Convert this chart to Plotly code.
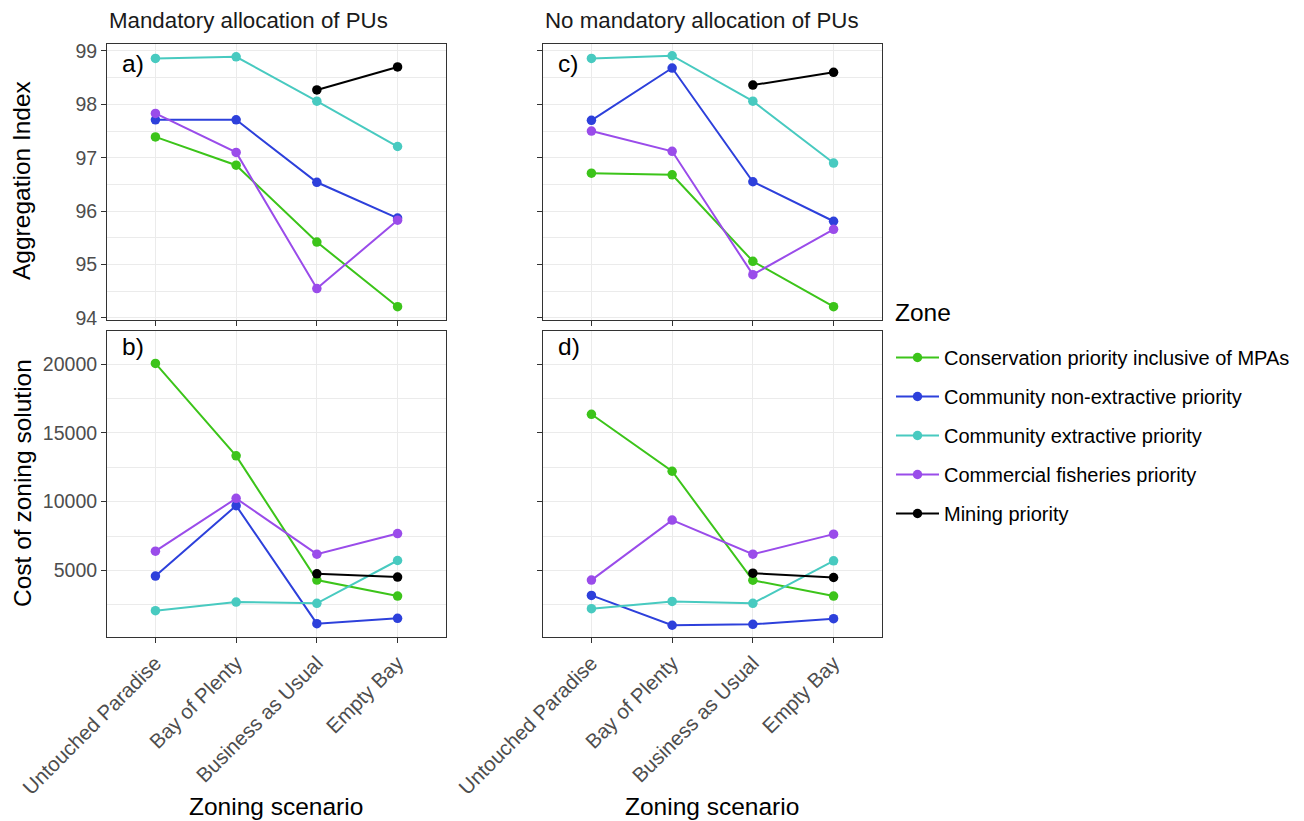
import plotly.graph_objects as go

scenarios = ["Untouched Paradise", "Bay of Plenty", "Business as Usual", "Empty Bay"]
zones = ["Conservation priority inclusive of MPAs", "Community non-extractive priority",
         "Community extractive priority", "Commercial fisheries priority", "Mining priority"]
colors = ["#3CC41A", "#2D40DB", "#48CAC0", "#9A4CEA", "#000000"]

# Panel a: Aggregation index, mandatory allocation
agg_mand_conservation = [97.39, 96.86, 95.42, 94.21]
agg_mand_noncomm = [97.71, 97.71, 96.54, 95.87]
agg_mand_extractive = [98.86, 98.89, 98.06, 97.21]
agg_mand_fisheries = [97.83, 97.10, 94.55, 95.83]
agg_mand_mining = [None, None, 98.27, 98.70]

# Panel c: Aggregation index, no mandatory allocation
agg_free_conservation = [96.71, 96.68, 95.06, 94.21]
agg_free_noncomm = [97.70, 98.68, 96.55, 95.81]
agg_free_extractive = [98.86, 98.91, 98.06, 96.90]
agg_free_fisheries = [97.50, 97.12, 94.81, 95.66]
agg_free_mining = [None, None, 98.36, 98.60]

# Panel b: Cost, mandatory allocation
cost_mand_conservation = [20050, 13330, 4300, 3140]
cost_mand_noncomm = [4590, 9710, 1135, 1520]
cost_mand_extractive = [2080, 2705, 2610, 5725]
cost_mand_fisheries = [6400, 10240, 6185, 7680]
cost_mand_mining = [None, None, 4760, 4520]

# Panel d: Cost, no mandatory allocation
cost_free_conservation = [16350, 12210, 4290, 3140]
cost_free_noncomm = [3190, 1020, 1090, 1500]
cost_free_extractive = [2220, 2750, 2610, 5700]
cost_free_fisheries = [4300, 8660, 6180, 7640]
cost_free_mining = [None, None, 4800, 4490]

panels = {
    ("x1", "y1"): [agg_mand_conservation, agg_mand_noncomm, agg_mand_extractive, agg_mand_fisheries, agg_mand_mining],
    ("x2", "y2"): [agg_free_conservation, agg_free_noncomm, agg_free_extractive, agg_free_fisheries, agg_free_mining],
    ("x3", "y3"): [cost_mand_conservation, cost_mand_noncomm, cost_mand_extractive, cost_mand_fisheries, cost_mand_mining],
    ("x4", "y4"): [cost_free_conservation, cost_free_noncomm, cost_free_extractive, cost_free_fisheries, cost_free_mining],
}

W, H = 1304, 821
def px_x(a, b):
    return [a / W, b / W]
def px_y(top, bottom):
    return [1 - bottom / H, 1 - top / H]

fig = go.Figure()
first = True
for (xa, ya), series in panels.items():
    for i, vals in enumerate(series):
        xs = [s for s, v in zip(scenarios, vals) if v is not None]
        ys = [v for v in vals if v is not None]
        fig.add_trace(go.Scatter(
            x=xs, y=ys, mode="lines+markers", name=zones[i],
            line=dict(color=colors[i], width=2),
            marker=dict(color=colors[i], size=9.5),
            xaxis=xa, yaxis=ya, showlegend=first, legendgroup=zones[i],
        ))
    first = False

FONT = "Liberation Sans, Arial, sans-serif"
grid = "#ebebeb"
border = "#333333"
tickfont = dict(family=FONT, size=19.5, color="#4d4d4d")
xtickfont = dict(family=FONT, size=20.5, color="#4d4d4d")

def xaxis(domain, anchor, labels):
    return dict(domain=domain, anchor=anchor, type="category", categoryorder="array",
                categoryarray=scenarios, range=[-0.6, 3.6], showgrid=True, gridcolor=grid,
                gridwidth=1.3, showline=True, mirror=True, linecolor=border, linewidth=1,
                ticks="outside", ticklen=5, tickcolor=border, tickwidth=1,
                showticklabels=labels, tickangle=-45, tickfont=xtickfont, zeroline=False)

def yaxis(domain, anchor, rng, dtick, tick0, labels):
    return dict(domain=domain, anchor=anchor, range=rng, dtick=dtick, tick0=tick0,
                tickformat="d",
                showgrid=True, gridcolor=grid, gridwidth=1.3,
                minor=dict(dtick=dtick / 2, tick0=tick0, showgrid=True, gridcolor=grid, gridwidth=0.7),
                showline=True, mirror=True, linecolor=border, linewidth=1,
                ticks="outside", ticklen=5, tickcolor=border, tickwidth=1,
                showticklabels=labels, tickfont=tickfont, zeroline=False)

xa_d = px_x(107, 446)
xc_d = px_x(543, 882)
ytop_d = px_y(44, 319.5)
ybot_d = px_y(330.5, 637)
agg_range = [93.97, 99.13]
cost_range = [165, 22440]

fig.update_layout(
    width=W, height=H, margin=dict(l=0, r=0, t=0, b=0, autoexpand=False),
    plot_bgcolor="white", paper_bgcolor="white",
    font=dict(family=FONT, color="black"),
    xaxis=xaxis(xa_d, "y", False),
    yaxis=yaxis(ytop_d, "x", agg_range, 1, 94, True),
    xaxis2=xaxis(xc_d, "y2", False),
    yaxis2=yaxis(ytop_d, "x2", agg_range, 1, 94, False),
    xaxis3=xaxis(xa_d, "y3", True),
    yaxis3=yaxis(ybot_d, "x3", cost_range, 5000, 0, True),
    xaxis4=xaxis(xc_d, "y4", True),
    yaxis4=yaxis(ybot_d, "x4", cost_range, 5000, 0, False),
    legend=dict(x=891 / W, y=1 - 338 / H, xanchor="left", yanchor="top",
                font=dict(size=20, family=FONT, color="black"),
                tracegroupgap=10, bgcolor="rgba(0,0,0,0)", itemwidth=43),
)

ann = []
ann.append(dict(text="Zone", x=893 / W, y=1 - 313 / H, xref="paper", yref="paper",
                xanchor="left", yanchor="middle", showarrow=False, font=dict(size=24.5, family=FONT, color="black")))
# strip titles
ann.append(dict(text="Mandatory allocation of PUs", x=107 / W, y=1 - 20 / H, xref="paper", yref="paper",
                xanchor="left", yanchor="middle", showarrow=False, font=dict(size=22.3, family=FONT, color="#1a1a1a")))
ann.append(dict(text="No mandatory allocation of PUs", x=543 / W, y=1 - 20 / H, xref="paper", yref="paper",
                xanchor="left", yanchor="middle", showarrow=False, font=dict(size=22.3, family=FONT, color="#1a1a1a")))
# axis titles
ann.append(dict(text="Aggregation Index", x=22 / W, y=1 - 181 / H, xref="paper", yref="paper", textangle=-90,
                xanchor="center", yanchor="middle", showarrow=False, font=dict(size=24.5, family=FONT)))
ann.append(dict(text="Cost of zoning solution", x=22 / W, y=1 - 483 / H, xref="paper", yref="paper", textangle=-90,
                xanchor="center", yanchor="middle", showarrow=False, font=dict(size=24.5, family=FONT)))
for cx in (276, 712):
    ann.append(dict(text="Zoning scenario", x=cx / W, y=1 - 806 / H, xref="paper", yref="paper",
                    xanchor="center", yanchor="middle", showarrow=False, font=dict(size=24.5, family=FONT)))
# panel labels
for lab, xr, yr, yy in (("a)", "x domain", "y domain", 0.93), ("c)", "x2 domain", "y2 domain", 0.93),
                        ("b)", "x3 domain", "y3 domain", 0.948), ("d)", "x4 domain", "y4 domain", 0.948)):
    ann.append(dict(text=lab, x=0.038, y=yy, xref=xr, yref=yr, xanchor="left", yanchor="middle",
                    showarrow=False, font=dict(size=24.5, family=FONT, color="black")))
fig.update_layout(annotations=ann)

fig.write_html("out.html", config={"displayModeBar": False},
               post_script="document.body.style.margin='0';document.body.style.overflow='hidden';")
